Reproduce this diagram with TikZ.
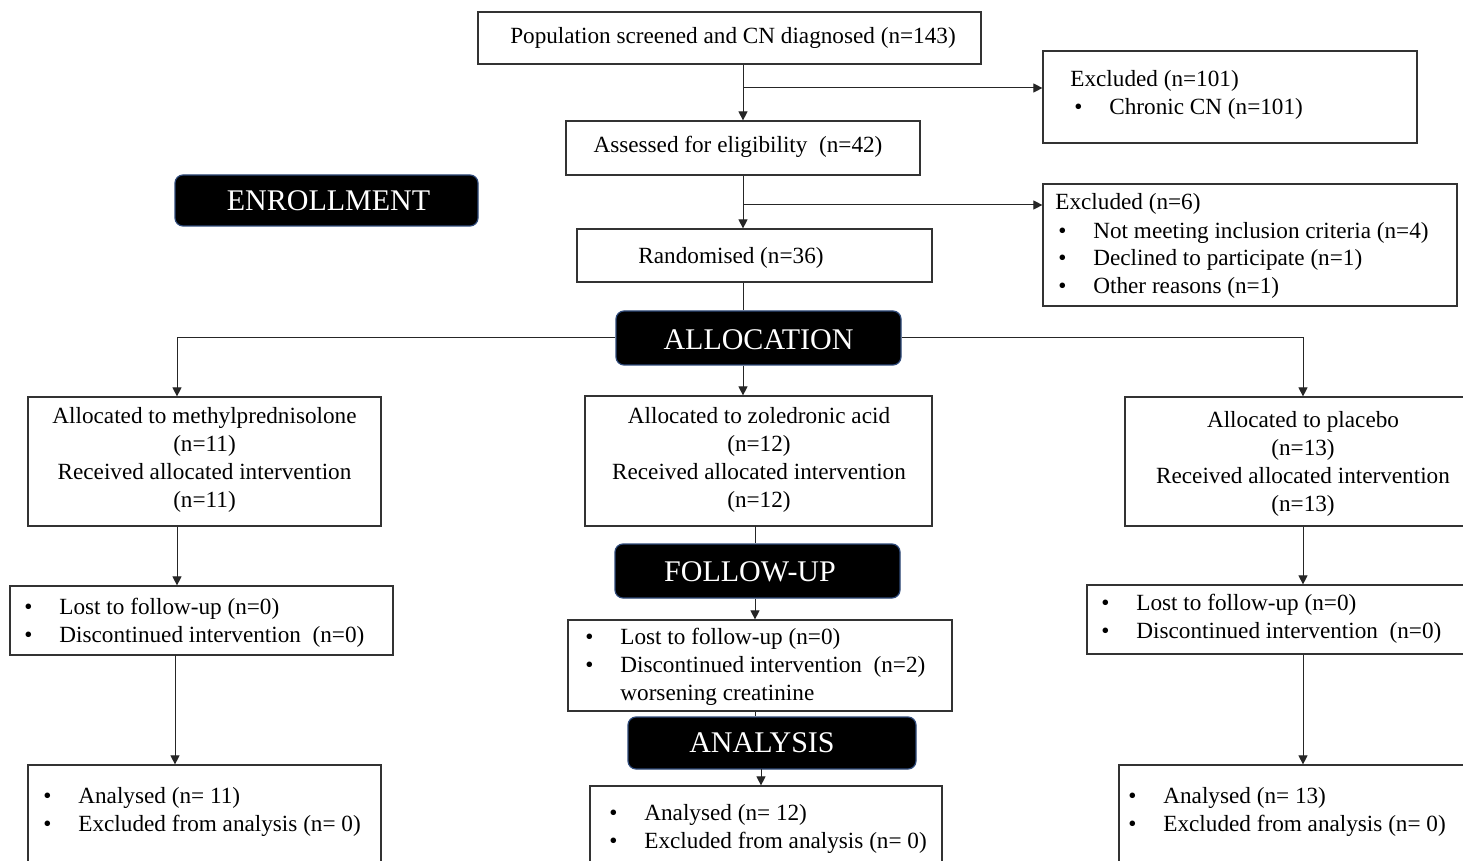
\documentclass[tikz,border=0pt]{standalone}
\usepackage{fontspec}
\setmainfont{Liberation Serif}
\usetikzlibrary{arrows.meta,fit}
\definecolor{navy}{HTML}{2F4A7A}
\tikzset{
  box/.style={draw=black!80, line width=0.6pt, inner sep=0pt, fill=white},
  txt/.style={font=\fontsize{11.6}{14}\selectfont, align=center, inner sep=0pt},
  ltxt/.style={font=\fontsize{11.6}{14}\selectfont, align=left, inner sep=0pt, anchor=base west},
  phase/.style={draw=navy, line width=0.6pt, fill=black, rounded corners=4pt, inner sep=0pt},
  ptxt/.style={text=white, font=\fontsize{15}{18}\selectfont, inner sep=0pt},
  ln/.style={line width=0.5pt, draw=black!85},
  arr/.style={ln, -{Triangle[length=4.5pt,width=4.5pt]}},
}
\newcommand{\bul}{\makebox[17.5pt][l]{•}}
\begin{document}
\begin{tikzpicture}[x=0.5pt,y=-0.5pt]
\useasboundingbox (0,0) rectangle (1463,861);
\clip (0,0) rectangle (1463,861);
\fill[white] (0,0) rectangle (1463,861);

% boxes
\node[box, fit={(478,12) (981,64)}] (pop) {};
\node[txt] (popt) at (733,38) {Population screened and CN diagnosed (n=143)};
\node[box, fit={(1043,51) (1417,143)}] (exc1) {};
\node[ltxt] (exc1t) at (1070,115) {Excluded (n=101)\\\hspace*{2pt}\bul Chronic CN (n=101)};
\node[box, fit={(566,121) (920,175)}] (assess) {};
\node[txt] (assesst) at (738,147) {Assessed for eligibility\ \ (n=42)};
\node[phase, fit={(175,175) (478,226)}] (enroll) {};
\node[ptxt] (enrollt) at (328.5,201) {ENROLLMENT};
\node[box, fit={(1043,184) (1457,306)}] (exc6) {};
\node[ltxt] (exc6t) at (1055,294) {Excluded (n=6)\\\hspace*{1.5pt}\bul Not meeting\ inclusion\ criteria\ (n=4)\\\hspace*{1.5pt}\bul Declined\ to participate\ (n=1)\\\hspace*{1.5pt}\bul Other reasons (n=1)};
\node[box, fit={(577,229) (932,282)}] (rand) {};
\node[txt] (randt) at (731,258) {Randomised (n=36)};
\node[phase, fit={(616,311) (901,365)}] (alloc) {};
\node[ptxt] (alloct) at (758.5,340) {ALLOCATION};

\node[box, fit={(28,397) (381,526)}] (meth) {};
\node[txt] (metht) at (204.5,460) {Allocated to methylprednisolone\\(n=11)\\Received allocated intervention\\(n=11)};
\node[box, fit={(585,396) (932,526)}] (zol) {};
\node[txt] (zolt) at (759,460) {Allocated to zoledronic acid\\(n=12)\\Received allocated intervention\\(n=12)};
\node[box, fit={(1125,397) (1481,526)}] (plac) {};
\node[txt] (plact) at (1303,464) {Allocated to placebo\\(n=13)\\Received allocated intervention\\(n=13)};

\node[box, fit={(10,586) (393,655)}] (lostL) {};
\node[ltxt] (lostLt) at (24,642) {\bul Lost to follow-up (n=0)\\\bul Discontinued intervention\ \ (n=0)};
\node[phase, fit={(615,544) (900,598)}] (fu) {};
\node[ptxt] (fut) at (750,572) {FOLLOW-UP};
\node[box, fit={(568,620) (952,711)}] (lostM) {};
\node[ltxt] (lostMt) at (585,700) {\bul Lost to follow-up (n=0)\\\bul Discontinued intervention\ \ (n=2)\\\makebox[17.5pt][l]{}worsening creatinine};
\node[box, fit={(1087,585) (1530,654)}] (lostR) {};
\node[ltxt] (lostRt) at (1101,638) {\bul Lost to follow-up (n=0)\\\bul Discontinued intervention\ \ (n=0)};

\node[phase, fit={(628,717) (916,769)}] (ana) {};
\node[ptxt] (anat) at (762,743) {ANALYSIS};
\node[box, fit={(28,765) (381,900)}] (anaL) {};
\node[ltxt] (anaLt) at (43,831) {\bul Analysed (n= 11)\\\bul Excluded from analysis\ (n= 0)};
\node[box, fit={(590,786) (942,900)}] (anaM) {};
\node[ltxt] (anaMt) at (609,848) {\bul Analysed (n= 12)\\\bul Excluded from analysis\ (n= 0)};
\node[box, fit={(1119,765) (1530,900)}] (anaR) {};
\node[ltxt] (anaRt) at (1128,831) {\bul Analysed (n= 13)\\\bul Excluded from analysis\ (n= 0)};

% connectors
\coordinate (c1) at (743,88);
\coordinate (c2) at (743,205);
\draw[arr] (pop.south -| assess.south) -- (assess.north);
\draw[arr] (c1) -- (c1 -| exc1.west);
\draw[arr] (assess.south) -- (assess.south |- rand.north);
\draw[arr] (c2) -- (c2 -| exc6.west);
\draw[ln] (rand.south -| assess.south) -- (alloc.north -| assess.south);
\coordinate (cL) at (177,338);
\draw[arr] (alloc.west) -- (cL) -- (cL |- meth.north);
\draw[arr] (alloc.east) -| (plac.north);
\draw[arr] (alloc.south -| assess.south) -- (zol.north -| assess.south);
\draw[arr] (meth.south -| cL) -- (lostL.north -| cL);
\coordinate (cL2) at (175,655);
\draw[arr] (cL2) -- (cL2 |- anaL.north);
\coordinate (cM) at (755,526);
\draw[ln] (cM) -- (cM |- fu.north);
\draw[arr] (fu.south -| cM) -- (lostM.north -| cM);
\draw[ln] (lostM.south -| cM) -- (ana.north -| cM);
\coordinate (cM2) at (761,769);
\draw[arr] (cM2) -- (cM2 |- anaM.north);
\draw[arr] (plac.south) -- (lostR.north -| plac.south);
\draw[arr] (lostR.south -| plac.south) -- (anaR.north -| plac.south);
\end{tikzpicture}
\end{document}
